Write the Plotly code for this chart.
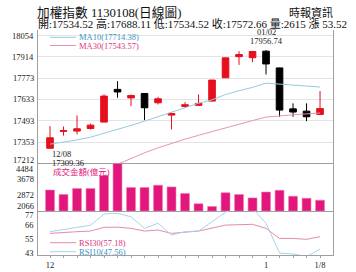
import plotly.graph_objects as go

# ---------------- data ----------------
dates = ["12/08", "12/11", "12/12", "12/13", "12/14", "12/15", "12/18", "12/19", "12/20", "12/21",
         "12/22", "12/25", "12/26", "12/27", "12/28", "12/29", "01/02", "01/03", "01/04", "01/05", "01/08"]
open_ = [17312, 17423, 17425, 17442, 17484, 17699, 17643, 17672, 17611, 17530,
         17587, 17594, 17622, 17775, 17914, 17907, 17950, 17840, 17571, 17556, 17534.52]
high = [17458, 17455, 17528, 17474, 17666, 17753, 17664, 17674, 17650, 17545,
        17615, 17666, 17762, 17908, 17950, 17952, 17956.74, 17842, 17607, 17607, 17688.11]
low = [17309.36, 17395, 17403, 17435, 17484, 17644, 17589, 17497, 17600, 17436,
       17578, 17590, 17620, 17773, 17860, 17878, 17797, 17519, 17519, 17490, 17534.52]
close = [17381, 17427, 17440, 17464, 17655, 17682, 17659, 17578, 17637, 17541,
         17598, 17607, 17760, 17906, 17928, 17948, 17866, 17563, 17550, 17519.14, 17572.66]
ma10 = [17339, 17352, 17367, 17385, 17410, 17436, 17462, 17490, 17520, 17549,
        17580, 17608, 17630, 17665, 17690, 17712, 17740, 17733, 17726, 17720, 17714.38]
ma30 = [17020, 17058, 17096, 17134, 17172, 17208, 17245, 17282, 17315, 17345,
        17372, 17397, 17422, 17447, 17470, 17494, 17517, 17526, 17532, 17538, 17543.57]
volume = [3133, 2907, 3205, 3205, 3870, 4484, 3258, 3258, 3380, 3292,
          2959, 2434, 2293, 2995, 2907, 2732, 3030, 3117, 2819, 2714, 2615]
rsi10 = [61, 62.5, 64.5, 66, 74.7, 75.2, 72.5, 63.6, 67.5, 58.4,
         61, 61.5, 68.7, 76, 80, 79, 67.5, 44.5, 43.8, 41.8, 47.56]
rsi30 = [59.7, 60.5, 61, 61.5, 64.4, 64.5, 63.6, 61.5, 62.3, 59.7,
         60.5, 61.5, 63.8, 66.1, 66.4, 66.7, 63.6, 55.8, 55.8, 55.1, 57.18]

price_ticks = ["17212", "17353", "17493", "17633", "17773", "17914", "18054"]
vol_ticks = ["2066", "2872", "3678", "4484"]
rsi_ticks = ["43", "55", "66", "77"]
x_labels = {"12/08": "12<br>112", "01/02": "1<br>113", "01/08": "1/8"}

title1 = "加權指數 1130108(日線圖)"
title2 = "開:17534.52 高:17688.11 低:17534.52 收:17572.66 量:2615 漲 53.52"
source = "時報資訊"
ma10_label = "MA10(17714.38)"
ma30_label = "MA30(17543.57)"
vol_label = "成交金額(億元)"
rsi30_label = "RSI30(57.18)"
rsi10_label = "RSI10(47.56)"

# ---------------- figure ----------------
FONT = 'Liberation Serif, "Noto Sans CJK TC", serif'
RED = "#e60f1e"
C_MA10 = "#95cbe0"
C_MA30 = "#e596b2"
T_BLUE = "#3a94c4"
T_PINK = "#d8397c"
MAG = "#e2167c"
FS = 8.5

xs = list(range(len(dates)))
fig = go.Figure()

fig.add_trace(go.Scatter(x=xs, y=ma10, mode="lines", line=dict(color=C_MA10, width=1),
                         xaxis="x", yaxis="y", hoverinfo="skip"))
fig.add_trace(go.Scatter(x=xs, y=ma30, mode="lines", line=dict(color=C_MA30, width=1),
                         xaxis="x", yaxis="y", hoverinfo="skip"))
fig.add_trace(go.Candlestick(x=xs, open=open_, high=high, low=low, close=close,
                             increasing=dict(line=dict(color=RED, width=1), fillcolor=RED),
                             decreasing=dict(line=dict(color="#000000", width=1), fillcolor="#000000"),
                             whiskerwidth=0, xaxis="x", yaxis="y", text=dates))
fig.add_trace(go.Bar(x=xs, y=[v - float(vol_ticks[0]) for v in volume], base=float(vol_ticks[0]),
                     width=0.66, marker=dict(color=MAG, line=dict(color="#f07ab0", width=0.6)),
                     xaxis="x2", yaxis="y2"))
fig.add_trace(go.Scatter(x=xs, y=rsi30, mode="lines", line=dict(color="#e58aae", width=1),
                         xaxis="x3", yaxis="y3"))
fig.add_trace(go.Scatter(x=xs, y=rsi10, mode="lines", line=dict(color="#a6d6e9", width=1),
                         xaxis="x3", yaxis="y3"))

xrange = [-0.89, 20.96]
LINE = "#a0a0a0"
pmin = float(price_ticks[0])
pmax = pmin + 133.5 / 0.1522

common_x = dict(range=xrange, showgrid=False, zeroline=False, showline=True, automargin=False,
                linecolor=LINE, linewidth=1, fixedrange=True)
common_y = dict(zeroline=False, showline=True, mirror=True, linecolor=LINE, automargin=False,
                showticklabels=False)
fig.update_layout(
    width=356, height=272,
    margin=dict(l=38, r=23, t=30, b=17, autoexpand=False),
    paper_bgcolor="white", plot_bgcolor="white",
    showlegend=False, boxgap=0.3,
    font=dict(family=FONT, size=FS, color="#222"),
    xaxis=dict(**common_x, anchor="y", showticklabels=False, rangeslider=dict(visible=False)),
    xaxis2=dict(**common_x, anchor="y2", showticklabels=False, matches="x"),
    xaxis3=dict(**common_x, anchor="y3", matches="x",
                tickmode="array", tickvals=xs,
                ticktext=[x_labels.get(d, "") for d in dates],
                ticks="outside", ticklen=2, tickcolor=LINE,
                tickfont=dict(family=FONT, size=FS, color="#222")),
    yaxis=dict(**common_y, domain=[0.4067, 1], range=[pmin, pmax], showgrid=True, gridcolor="#e4e4e4",
               tickmode="array", tickvals=[float(t) for t in price_ticks]),
    yaxis2=dict(**common_y, domain=[0.1956, 0.4067], range=[float(vol_ticks[0]), float(vol_ticks[-1])],
                showgrid=False),
    yaxis3=dict(**common_y, domain=[0, 0.1956], range=[float(rsi_ticks[0]), float(rsi_ticks[-1])],
                showgrid=False),
)

ann = []
# y tick labels via annotations (boundary labels nudged as in the source)
def tick_ann(labels, yref, shifts):
    for t in labels:
        ann.append(dict(x=0, xref="paper", y=float(t), yref=yref, text=t, showarrow=False,
                        xanchor="right", yanchor="middle", xshift=-2, yshift=shifts.get(t, 0),
                        font=dict(family=FONT, size=FS, color="#222")))

tick_ann(price_ticks, "y", {price_ticks[0]: 3.5, price_ticks[-1]: -1})
tick_ann(vol_ticks, "y2", {vol_ticks[0]: 4.6, vol_ticks[-1]: -5.5})
tick_ann(rsi_ticks, "y3", {rsi_ticks[0]: 2.5, rsi_ticks[-1]: -4.3})

def px_x(p):
    return (p - 38) / 295.0

def px_y(p):
    return (255 - p) / 225.0

# header
ann.append(dict(x=px_x(35), y=px_y(12.3), xref="paper", yref="paper", text=title1, showarrow=False,
                xanchor="left", yanchor="middle", font=dict(family=FONT, size=12.7, color="#111")))
ann.append(dict(x=px_x(35.5), y=px_y(23.5), xref="paper", yref="paper", text=title2, showarrow=False,
                xanchor="left", yanchor="middle", font=dict(family=FONT, size=11, color="#111")))
ann.append(dict(x=px_x(335), y=px_y(13), xref="paper", yref="paper", text=source, showarrow=False,
                xanchor="right", yanchor="middle", font=dict(family=FONT, size=11, color="#111")))

# legends
def legend_item(text, color, tcolor, ypx):
    ann.append(dict(x=px_x(77), y=px_y(ypx), xref="paper", yref="paper", text=text, showarrow=False,
                    xanchor="left", yanchor="middle", font=dict(family=FONT, size=FS, color=tcolor)))
    fig.add_shape(type="line", xref="paper", yref="paper", x0=px_x(50), x1=px_x(76),
                  y0=px_y(ypx), y1=px_y(ypx), line=dict(color=color, width=1))

legend_item(ma10_label, C_MA10, T_BLUE, 37.3)
legend_item(ma30_label, C_MA30, T_PINK, 45.5)
legend_item(rsi30_label, "#e58aae", T_PINK, 242.7)
legend_item(rsi10_label, "#a6d6e9", T_BLUE, 251.7)

ann.append(dict(x=px_x(51), y=px_y(171.7), xref="paper", yref="paper", text=vol_label, showarrow=False,
                xanchor="left", yanchor="middle", font=dict(family=FONT, size=FS, color=MAG)))

# high / low annotations
hi_i = max(xs, key=lambda i: high[i])
lo_i = min(xs, key=lambda i: low[i])
ann.append(dict(x=hi_i, y=high[hi_i], xref="x", yref="y", text=dates[hi_i], showarrow=False,
                xanchor="center", yanchor="middle", yshift=18, font=dict(family=FONT, size=FS, color="#222")))
ann.append(dict(x=hi_i, y=high[hi_i], xref="x", yref="y", text=f"{high[hi_i]:.2f}", showarrow=False,
                xanchor="center", yanchor="middle", yshift=9, font=dict(family=FONT, size=FS, color="#222")))
ann.append(dict(x=lo_i, y=low[lo_i], xref="x", yref="y", text=dates[lo_i], showarrow=False,
                xanchor="left", yanchor="middle", xshift=0, yshift=-5.6, font=dict(family=FONT, size=FS, color="#222")))
ann.append(dict(x=lo_i, y=low[lo_i], xref="x", yref="y", text=f"{low[lo_i]:.2f}", showarrow=False,
                xanchor="left", yanchor="middle", xshift=0, yshift=-14, font=dict(family=FONT, size=FS, color="#222")))

fig.update_layout(annotations=ann)
fig.write_html("out.html")
